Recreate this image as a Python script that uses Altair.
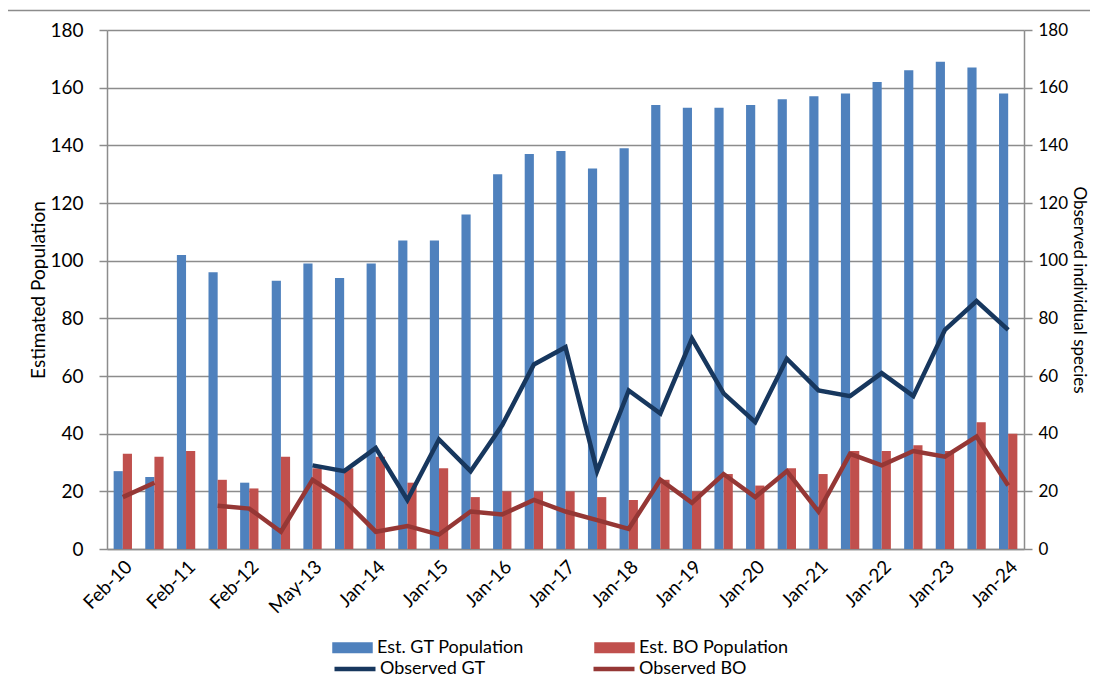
import altair as alt
import pandas as pd

tick_labels = ["Feb-10", "Feb-11", "Feb-12", "May-13", "Jan-14", "Jan-15", "Jan-16",
               "Jan-17", "Jan-18", "Jan-19", "Jan-20", "Jan-21", "Jan-22", "Jan-23", "Jan-24"]

est_gt = [27, 25, 102, 96, 23, 93, 99, 94, 99, 107, 107, 116, 130, 137, 138, 132, 139,
          154, 153, 153, 154, 156, 157, 158, 162, 166, 169, 167, 158]
est_bo = [33, 32, 34, 24, 21, 32, 28, 28, 32, 23, 28, 18, 20, 20, 20, 18, 17,
          24, 20, 26, 22, 28, 26, 34, 34, 36, 34, 44, 40]
obs_gt = [None, None, None, None, None, None, 29, 27, 35, 17, 38, 27, 43, 64, 70, 27, 55,
          47, 73, 54, 44, 66, 55, 53, 61, 53, 76, 86, 76]
obs_bo = [18, 23, None, 15, 14, 6, 24, 17, 6, 8, 5, 13, 12, 17, 13, 10, 7,
          24, 16, 26, 18, 27, 13, 33, 29, 34, 32, 39, 22]

bar_names = ["Est. GT Population", "Est. BO Population"]
line_names = ["Observed GT", "Observed BO"]

n = len(est_gt)
bars = pd.DataFrame(
    [{"idx": i, "series": bar_names[0], "value": est_gt[i]} for i in range(n)]
    + [{"idx": i, "series": bar_names[1], "value": est_bo[i]} for i in range(n)]
)
lines = pd.DataFrame(
    [{"idx": i, "series": line_names[0], "value": obs_gt[i]} for i in range(n)]
    + [{"idx": i, "series": line_names[1], "value": obs_bo[i]} for i in range(n)]
)

FONT = "Lato"
GRID = "#8c8c8c"
label_expr = "[" + ",".join("'" + t + "'" for t in tick_labels) + "][datum.value / 2]"

x_enc = alt.X(
    "idx:O",
    sort=list(range(n)),
    scale=alt.Scale(paddingInner=0.42, paddingOuter=0.21),
    axis=alt.Axis(
        values=list(range(0, n, 2)), labelExpr=label_expr, labelAngle=-45,
        ticks=False, title=None, domainColor=GRID, domainWidth=1.5,
        labelFontSize=19, labelPadding=8,
    ),
)

bar_layer = alt.Chart(bars).mark_bar().encode(
    x=x_enc,
    xOffset=alt.XOffset("series:N", sort=bar_names, scale=alt.Scale(paddingInner=0, paddingOuter=0)),
    y=alt.Y(
        "value:Q",
        scale=alt.Scale(domain=[0, 180], nice=False),
        axis=alt.Axis(
            values=list(range(0, 181, 20)), title="Estimated Population",
            grid=True, gridColor=GRID, gridWidth=1.5, domainColor=GRID, domainWidth=1.5,
            tickColor=GRID, tickWidth=1.5, tickSize=8, labelPadding=16,
            labelFontSize=19, titleFontSize=19, titleFontWeight="normal", titlePadding=1,
        ),
    ),
    color=alt.Color(
        "series:N", sort=bar_names,
        scale=alt.Scale(domain=bar_names, range=["#4F81BD", "#C0504D"]),
        legend=alt.Legend(
            title=None, orient="none", direction="horizontal", columns=2,
            legendX=225, legendY=597, columnPadding=70,
            symbolType="M-1,-0.27L1,-0.27L1,0.27L-1,0.27Z", symbolSize=1640,
            symbolStrokeWidth=0, labelFontSize=18, labelOffset=4, padding=0,
        ),
    ),
)

line_layer = alt.Chart(lines).mark_line(
    strokeWidth=4.5, invalid="break-paths-show-domains"
).encode(
    x=x_enc,
    y=alt.Y(
        "value:Q",
        scale=alt.Scale(domain=[0, 180], nice=False),
        axis=alt.Axis(
            orient="right", values=list(range(0, 181, 20)),
            title="Observed individual species", grid=False,
            domainColor=GRID, domainWidth=1.5, tickColor=GRID, tickWidth=1.5, tickSize=8,
            labelPadding=6, labelFontSize=17, titleFontSize=17, titleFontWeight="normal",
            titlePadding=2,
        ),
    ),
    stroke=alt.Stroke(
        "series:N", sort=line_names,
        scale=alt.Scale(domain=line_names, range=["#17375E", "#953735"]),
        legend=alt.Legend(
            title=None, orient="none", direction="horizontal", columns=2,
            legendX=225, legendY=616, columnPadding=98,
            symbolType="stroke", symbolSize=1680, symbolStrokeWidth=4.5,
            labelFontSize=18, labelOffset=2, padding=0,
        ),
    ),
    detail="series:N",
)

border_left = alt.Chart(pd.DataFrame({"a": [0]})).mark_rule(color="#8c8c8c", strokeWidth=1.5).encode(
    x=alt.value(-101.5), y=alt.value(-19.5), y2=alt.value(700)
)
border_top = alt.Chart(pd.DataFrame({"a": [0]})).mark_rule(color="#8c8c8c", strokeWidth=1.5).encode(
    x=alt.value(-101.5), x2=alt.value(1000), y=alt.value(-19.5)
)

chart = alt.layer(bar_layer, line_layer, border_left, border_top).resolve_scale(
    y="independent", color="independent", stroke="independent"
).properties(
    width=917, height=519,
    autosize=alt.AutoSizeParams(type="none"),
    padding={"left": 99, "top": 22, "right": 66, "bottom": 132},
).configure_view(stroke=None).configure_axis(
    labelFont=FONT, titleFont=FONT, labelColor="#000000", titleColor="#000000"
).configure_legend(
    labelFont=FONT, labelColor="#000000"
)

chart.save("out.html", embed_options={"renderer": "svg", "actions": False})
